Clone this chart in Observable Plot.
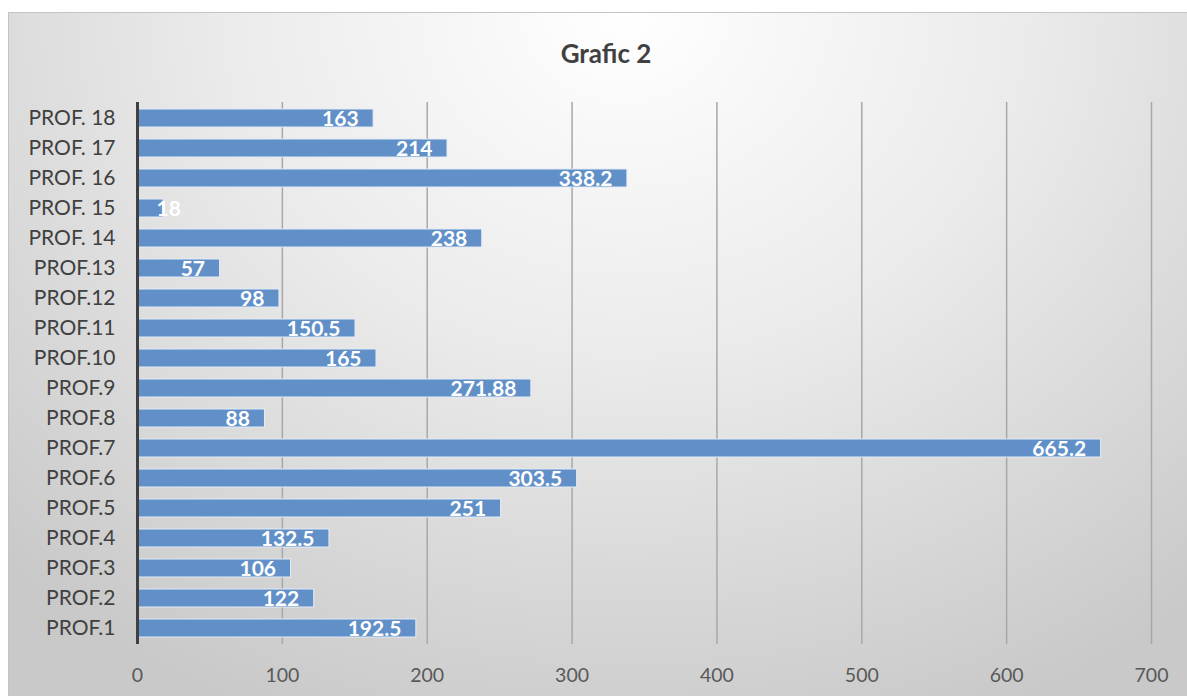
<!DOCTYPE html>
<html>
<head>
<meta charset="utf-8">
<script src="https://cdn.jsdelivr.net/npm/d3@7"></script>
<script src="https://cdn.jsdelivr.net/npm/@observablehq/plot@0.6"></script>
<style>
  html, body { margin: 0; padding: 0; background: #ffffff; width: 1187px; height: 696px; overflow: hidden; }
  #frame {
    position: absolute; left: 8px; top: 12px; width: 1185px; height: 690px;
    border: 1px solid #c4c4c4;
    background: radial-gradient(ellipse 75% 110% at 52% 0%, #ffffff 0%, #ebebeb 45%, #c9c9c9 100%);
    font-family: Lato, "Open Sans", sans-serif;
  }
  #title { height: 80px; line-height: 80px; text-align: center; font-weight: bold; font-size: 26px; color: #404040; padding-left: 8px; box-sizing: border-box; width: 1186px; }
  #chart svg { display: block; background: transparent; }
</style>
</head>
<body>
<div id="frame">
  <div id="title">Grafic 2</div>
  <div id="chart"></div>
</div>
<script>
const categories = ["PROF.1","PROF.2","PROF.3","PROF.4","PROF.5","PROF.6","PROF.7","PROF.8","PROF.9","PROF.10","PROF.11","PROF.12","PROF.13","PROF. 14","PROF. 15","PROF. 16","PROF. 17","PROF. 18"];
const values = [192.5, 122, 106, 132.5, 251, 303.5, 665.2, 88, 271.88, 165, 150.5, 98, 57, 238, 18, 338.2, 214, 163];
const xTicks = [0, 100, 200, 300, 400, 500, 600, 700];

const data = categories.map((c, i) => ({name: c, value: values[i]}));

const chart = Plot.plot({
  width: 1178,
  height: 601,
  marginLeft: 128,
  marginRight: 36,
  marginTop: 9,
  marginBottom: 50,
  style: {fontFamily: "Lato, 'Open Sans', sans-serif", background: "transparent", fontSize: "20px"},
  x: {domain: [0, 700], ticks: xTicks, label: null, tickSize: 0, tickPadding: 24},
  y: {domain: categories.slice().reverse(), label: null, paddingInner: 0.4, paddingOuter: 0.2, tickSize: 0, tickPadding: 22},
  marks: [
    Plot.ruleX(xTicks.filter(d => d > 0), {stroke: "#a8a8a8", strokeWidth: 1.5}),
    Plot.barX(data, {y: "name", x: "value", fill: "#6190c8", stroke: "#e4ecf6", strokeWidth: 1}),
    Plot.ruleX([0], {stroke: "#404040", strokeWidth: 3}),
    Plot.text(data.filter(d => d.value >= 30), {
      y: "name", x: "value", text: d => String(d.value), textAnchor: "end", dx: -15, dy: 1,
      fill: "white", fontWeight: "bold", fontSize: 21
    }),
    Plot.text(data.filter(d => d.value < 30), {
      y: "name", x: "value", text: d => String(d.value), textAnchor: "start", dx: -7, dy: 1,
      fill: "white", fontWeight: "bold", fontSize: 21
    }),
    Plot.axisY({tickSize: 0, tickPadding: 22, fontSize: 21, fill: "#404040", label: null}),
    Plot.axisX({ticks: xTicks, tickSize: 0, tickPadding: 24, fontSize: 19.5, fill: "#595959", label: null})
  ]
});
document.getElementById("chart").appendChild(chart);
</script>
</body>
</html>
